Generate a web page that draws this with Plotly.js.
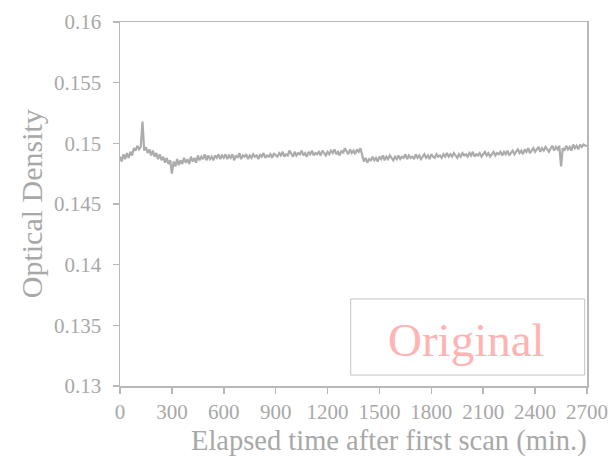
<!DOCTYPE html>
<html>
<head>
<meta charset="utf-8">
<script src="https://cdn.plot.ly/plotly-3.0.1.min.js"></script>
<style>html,body{margin:0;padding:0;background:#fff;}#chart{width:611px;height:459px;}</style>
</head>
<body>
<div id="chart"></div>
<script>
// Sampling of the elapsed-time axis (minutes)
const timeStart = 0;
const timeStep = 10;

// Optical density readings, one per sample (0 ... 2700 min)
const opticalDensity = [
  0.1489, 0.1485, 0.1491, 0.1487, 0.1492, 0.1488,
  0.1493, 0.1490, 0.1496, 0.1494, 0.1498, 0.1495,
  0.1497, 0.1518,
  0.1494, 0.1497, 0.1492, 0.1495, 0.1490, 0.1494, 0.1489,
  0.1492, 0.1487, 0.1491, 0.1486, 0.1489, 0.1484, 0.1488, 0.1483, 0.1486,
  0.1475, 0.1485, 0.1481, 0.1487, 0.1482, 0.1486,
  0.1483, 0.1488, 0.1484, 0.1487, 0.1483, 0.1489, 0.1485, 0.1488, 0.1484, 0.1490,
  0.1486, 0.1489, 0.1487, 0.1491, 0.1486, 0.1490, 0.1487, 0.1489, 0.1486, 0.1490, 0.1488, 0.1491, 0.1487, 0.1490, 0.1488,
  0.1491, 0.1487, 0.1490, 0.1488, 0.1491, 0.1486, 0.1490, 0.1488, 0.1492, 0.1487, 0.1490, 0.1489, 0.1491, 0.1487, 0.1490,
  0.1488, 0.1491, 0.1489, 0.1490, 0.1487, 0.1491, 0.1489, 0.1492, 0.1488, 0.1490, 0.1489, 0.1491, 0.1488, 0.1492, 0.1490,
  0.1489, 0.1492, 0.1490, 0.1493, 0.1489, 0.1491, 0.1490, 0.1494, 0.1491, 0.1489, 0.1493, 0.1490, 0.1492, 0.1491, 0.1494,
  0.1490, 0.1492, 0.1489, 0.1493, 0.1491, 0.1494, 0.1490, 0.1492, 0.1491, 0.1493, 0.1490, 0.1494, 0.1492, 0.1490, 0.1493,
  0.1491, 0.1494, 0.1492, 0.1495, 0.1491, 0.1493, 0.1490, 0.1494, 0.1492, 0.1496, 0.1493, 0.1491, 0.1495, 0.1492, 0.1494,
  0.1491, 0.1495, 0.1493, 0.1496,
  0.1489, 0.1485, 0.1488, 0.1484, 0.1487, 0.1486,
  0.1489, 0.1486, 0.1488, 0.1485, 0.1489, 0.1487, 0.1490, 0.1486, 0.1489, 0.1487, 0.1490, 0.1488, 0.1486, 0.1489, 0.1487,
  0.1490, 0.1487, 0.1489, 0.1488, 0.1491, 0.1487, 0.1490, 0.1488, 0.1489, 0.1487, 0.1491, 0.1488, 0.1490, 0.1487, 0.1489,
  0.1491, 0.1488, 0.1490, 0.1487, 0.1491, 0.1489, 0.1488, 0.1491, 0.1489, 0.1490, 0.1488, 0.1491, 0.1489, 0.1492, 0.1489,
  0.1491, 0.1489, 0.1492, 0.1490, 0.1488, 0.1491, 0.1489, 0.1492, 0.1490, 0.1491, 0.1489, 0.1492, 0.1490, 0.1493, 0.1489,
  0.1491, 0.1490, 0.1492, 0.1489, 0.1491, 0.1493, 0.1490, 0.1492, 0.1489, 0.1491, 0.1493, 0.1490, 0.1492, 0.1491, 0.1493,
  0.1490, 0.1493, 0.1491, 0.1494, 0.1490, 0.1492, 0.1494, 0.1491, 0.1493, 0.1495, 0.1492, 0.1494, 0.1491, 0.1495, 0.1493,
  0.1496, 0.1492, 0.1494, 0.1496, 0.1493, 0.1495, 0.1497, 0.1493, 0.1496, 0.1494, 0.1497, 0.1495, 0.1493, 0.1496, 0.1498,
  0.1494, 0.1497, 0.1495, 0.1498, 0.1481, 0.1496, 0.1494, 0.1498, 0.1495, 0.1497,
  0.1494, 0.1499, 0.1496, 0.1498, 0.1495, 0.1499, 0.1497, 0.1499, 0.1498, 0.1498
];

const xTickVals = [0, 300, 600, 900, 1200, 1500, 1800, 2100, 2400, 2700];
const yTickVals = [0.13, 0.135, 0.14, 0.145, 0.15, 0.155, 0.16];
const yTickText = ['0.13', '0.135', '0.14', '0.145', '0.15', '0.155', '0.16'];
const xTitle = 'Elapsed time after first scan (min.)';
const yTitle = 'Optical Density';
const boxLabel = 'Original';

const serif = '"Liberation Serif", "Times New Roman", Times, serif';
const textGray = '#a8a8a8';
const lineGray = '#b8b8b8';

const trace = {
  type: 'scatter',
  mode: 'lines',
  x0: timeStart,
  dx: timeStep,
  y: opticalDensity,
  line: {color: '#acacac', width: 2.2},
  hoverinfo: 'skip',
  showlegend: false
};

const layout = {
  width: 611,
  height: 459,
  margin: {l: 120, r: 24, t: 22, b: 73},
  paper_bgcolor: '#ffffff',
  plot_bgcolor: '#ffffff',
  font: {family: serif, color: textGray, size: 21},
  xaxis: {
    range: [0, 2700],
    tickvals: xTickVals,
    ticks: 'outside',
    ticklen: 6,
    tickcolor: lineGray,
    tickwidth: 1.5,
    showline: true,
    linecolor: lineGray,
    linewidth: 1.5,
    mirror: true,
    showgrid: false,
    zeroline: false,
    tickfont: {family: serif, size: 21, color: textGray}
  },
  yaxis: {
    range: [0.13, 0.16],
    tickvals: yTickVals,
    ticktext: yTickText,
    ticks: 'outside',
    ticklen: 6,
    tickcolor: lineGray,
    tickwidth: 1.5,
    ticklabelstandoff: 7,
    showline: true,
    linecolor: lineGray,
    linewidth: 1.5,
    mirror: true,
    showgrid: false,
    zeroline: false,
    tickfont: {family: serif, size: 21, color: textGray}
  },
  shapes: [{
    type: 'rect', xref: 'paper', yref: 'paper',
    x0: 0.494, x1: 0.995, y0: 0.030, y1: 0.239,
    line: {color: '#c4c4c4', width: 1}, fillcolor: 'rgba(0,0,0,0)'
  }],
  annotations: [
    {
      xref: 'paper', yref: 'paper', x: 0.743, y: 0.127,
      xanchor: 'center', yanchor: 'middle', showarrow: false,
      text: boxLabel,
      font: {family: serif, size: 47, color: '#ffb3b3'}
    },
    {
      xref: 'paper', yref: 'paper', x: 0.577, y: -0.15,
      xanchor: 'center', yanchor: 'middle', showarrow: false,
      text: xTitle,
      font: {family: serif, size: 28.5, color: textGray}
    },
    {
      xref: 'paper', yref: 'paper', x: -0.19, y: 0.5,
      xanchor: 'center', yanchor: 'middle', showarrow: false,
      textangle: -90,
      text: yTitle,
      font: {family: serif, size: 30, color: textGray}
    }
  ]
};

Plotly.newPlot('chart', [trace], layout, {staticPlot: true, displayModeBar: false});
</script>
</body>
</html>
